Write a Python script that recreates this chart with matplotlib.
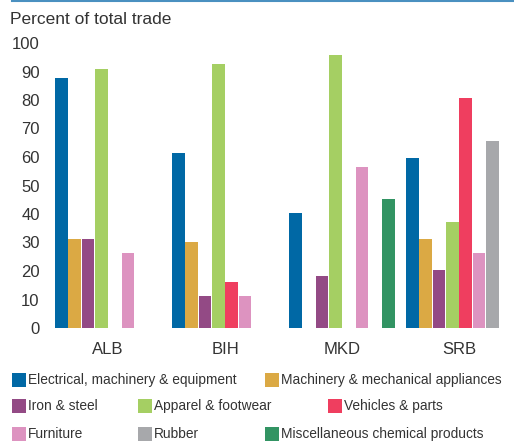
import numpy as np
import matplotlib
matplotlib.use('Agg')
import matplotlib.pyplot as plt
from matplotlib.patches import Rectangle
from matplotlib.lines import Line2D

plt.rcParams['font.family'] = ['Liberation Sans', 'DejaVu Sans']

countries = ['ALB', 'BIH', 'MKD', 'SRB']
series = [
    'Electrical, machinery & equipment',
    'Machinery & mechanical appliances',
    'Iron & steel',
    'Apparel & footwear',
    'Vehicles & parts',
    'Furniture',
    'Rubber',
    'Miscellaneous chemical products',
]
nan = np.nan
electrical = [87.7, 61.4, 40.4, 59.6]
machinery = [31.2, 30.2, nan, 31.2]
iron = [31.2, 11.2, 18.2, 20.4]
apparel = [90.9, 92.6, 95.8, 37.2]
vehicles = [nan, 16.1, nan, 80.7]
furniture = [26.3, 11.2, 56.5, 26.3]
rubber = [nan, nan, nan, 65.6]
misc_chem = [nan, nan, 45.3, nan]
values = [electrical, machinery, iron, apparel, vehicles, furniture, rubber, misc_chem]

colors = ['#0068a5', '#dba944', '#934a85', '#a5cf63',
          '#ef3e5f', '#dd93c0', '#a7a8ab', '#329463']
yticks = list(range(0, 101, 10))
text_col = '#333333'

W, H = 514, 443
fig = plt.figure(figsize=(W / 100, H / 100), dpi=100)
ax = fig.add_axes([48 / W, (H - 328) / H, (W - 48) / W, (328 - 43) / H])

slot = 0.114
x = np.arange(len(countries))
for j, (name, vals, c) in enumerate(zip(series, values, colors)):
    ax.bar(x + (j - 3.5) * slot, vals, width=0.106, color=c, label=name)

ax.set_xlim(-0.513, 3.47)
ax.set_ylim(0, 100)
ax.set_yticks(yticks)
ax.set_yticklabels([str(t) for t in yticks], fontsize=12, color=text_col)
ax.set_xticks(x)
ax.set_xticklabels(countries, fontsize=12, color=text_col)
ax.tick_params(axis='both', length=0)
ax.tick_params(axis='y', pad=6)
ax.tick_params(axis='x', pad=10)
for s in ax.spines.values():
    s.set_visible(False)

fig.text(10 / W, 1 - 20 / H, 'Percent of total trade', fontsize=12.5,
         color=text_col, va='center', ha='left')

# top rule
fig.add_artist(Line2D([12 / W, 1], [1 - 1 / H, 1 - 1 / H], color='#4a90c0', lw=1.5))

# legend laid out like the original
legend_pos = [(12, 380), (265, 380),
              (12, 406), (138, 406), (328, 406),
              (12, 434), (138, 434), (265, 434)]
for k, (px, py) in enumerate(legend_pos):
    fig.add_artist(Rectangle((px / W, 1 - (py + 7) / H), 14 / W, 14 / H,
                             transform=fig.transFigure, color=colors[k], lw=0))
    fig.text((px + 16) / W, 1 - py / H, series[k], fontsize=9.9,
             color=text_col, va='center', ha='left')

fig.savefig('out.png', dpi=100)
